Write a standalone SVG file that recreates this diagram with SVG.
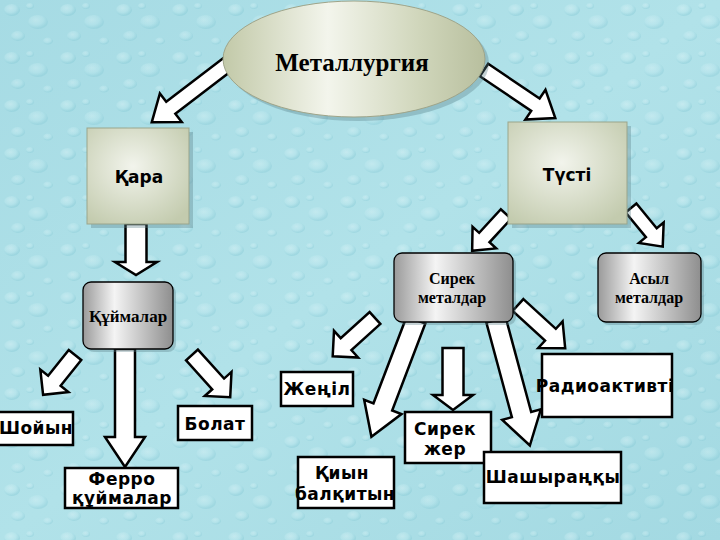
<svg xmlns="http://www.w3.org/2000/svg" width="720" height="540" viewBox="0 0 720 540">
<defs>
<style>
.arrow polygon{fill:#ffffff;stroke:#000000;stroke-width:2.5;stroke-linejoin:miter}
.lbl{fill:#ffffff;stroke:#000000;stroke-width:2.5}
.sans{font-family:"DejaVu Sans","Liberation Sans",sans-serif;font-weight:bold;fill:#000000;text-anchor:middle}
.serif{font-family:"Liberation Serif","DejaVu Serif",serif;fill:#000000;text-anchor:middle}
.sq{fill:url(#gSq);stroke:#9aa58c;stroke-width:1}
.gr{fill:url(#gGr);stroke:#000000;stroke-width:1.3}
.sh{fill:#5a7d86;opacity:0.35}
</style>
<linearGradient id="gBg" x1="0" y1="0" x2="1" y2="1">
<stop offset="0" stop-color="#a6dbe4"/>
<stop offset="0.5" stop-color="#b1e2e9"/>
<stop offset="1" stop-color="#a3d9e2"/>
</linearGradient>
<radialGradient id="gDrop" cx="0.4" cy="0.35" r="0.6">
<stop offset="0" stop-color="#e6f8fa"/>
<stop offset="0.6" stop-color="#bfe9ef"/>
<stop offset="1" stop-color="#86c9d5"/>
</radialGradient>
<pattern id="pDrops" x="0" y="0" width="56" height="48" patternUnits="userSpaceOnUse">
<ellipse cx="12" cy="10" rx="8" ry="6" fill="url(#gDrop)" opacity="0.4"/>
<ellipse cx="38" cy="22" rx="10" ry="7" fill="url(#gDrop)" opacity="0.35"/>
<ellipse cx="18" cy="36" rx="7" ry="5" fill="url(#gDrop)" opacity="0.35"/>
<ellipse cx="48" cy="41" rx="5" ry="3.5" fill="url(#gDrop)" opacity="0.35"/>
<ellipse cx="30" cy="6" rx="4" ry="3" fill="url(#gDrop)" opacity="0.35"/>
</pattern>
<linearGradient id="gEl" x1="0" y1="0" x2="1" y2="0">
<stop offset="0" stop-color="#c2c9a8"/>
<stop offset="0.4" stop-color="#f3f5ec"/>
<stop offset="0.75" stop-color="#d0d6bb"/>
<stop offset="1" stop-color="#b8bf9e"/>
</linearGradient>
<radialGradient id="gSq" cx="0.45" cy="0.4" r="0.7">
<stop offset="0" stop-color="#f2f4ec"/>
<stop offset="1" stop-color="#c3cbae"/>
</radialGradient>
<linearGradient id="gGr" x1="0" y1="0" x2="1" y2="0">
<stop offset="0" stop-color="#9a9a9a"/>
<stop offset="0.35" stop-color="#f4f4f4"/>
<stop offset="0.7" stop-color="#bdbdbd"/>
<stop offset="1" stop-color="#8e8e8e"/>
</linearGradient>
</defs>

<rect x="0" y="0" width="720" height="540" fill="url(#gBg)"/>
<rect x="0" y="0" width="720" height="540" fill="url(#pDrops)"/>

<g id="connectors" class="arrow">
<g transform="translate(228,64) rotate(142.6)"><polygon points="0,-7.5 72,-7.5 72,-18 96,0 72,18 72,7.5 0,7.5"/></g>
<g transform="translate(484,70) rotate(34)"><polygon points="0,-7.5 62,-7.5 62,-18 86,0 62,18 62,7.5 0,7.5"/></g>
<g transform="translate(136,224) rotate(90)"><polygon points="0,-10.5 38,-10.5 38,-21 51,0 38,21 38,10.5 0,10.5"/></g>
<g transform="translate(506,214) rotate(132.6)"><polygon points="0,-7 32,-7 32,-16 50,0 32,16 32,7 0,7"/></g>
<g transform="translate(631,208) rotate(50.6)"><polygon points="0,-7 32,-7 32,-16 50,0 32,16 32,7 0,7"/></g>
<g transform="translate(75,355) rotate(128.7)"><polygon points="0,-8 33,-8 33,-18 51,0 33,18 33,8 0,8"/></g>
<g transform="translate(125,349) rotate(90)"><polygon points="0,-10 88,-10 88,-20 118,0 88,20 88,10 0,10"/></g>
<g transform="translate(192,355) rotate(47.9)"><polygon points="0,-8 39,-8 39,-18 57,0 39,18 39,8 0,8"/></g>
<g transform="translate(375,318) rotate(137.9)"><polygon points="0,-8 39,-8 39,-18 57,0 39,18 39,8 0,8"/></g>
<g transform="translate(416,320) rotate(110.9)"><polygon points="0,-10 93,-10 93,-20 125,0 93,20 93,10 0,10"/></g>
<g transform="translate(453,348) rotate(90)"><polygon points="0,-10.5 47,-10.5 47,-20 62,0 47,20 47,10.5 0,10.5"/></g>
<g transform="translate(496,320) rotate(74.9)"><polygon points="0,-10 98,-10 98,-20 130,0 98,20 98,10 0,10"/></g>
<g transform="translate(518,305) rotate(42.5)"><polygon points="0,-8 44,-8 44,-18 64,0 44,18 44,8 0,8"/></g>
</g>

<g id="metallurgy">
<ellipse cx="358" cy="63" rx="131" ry="58" class="sh"/>
<ellipse cx="354" cy="59" rx="131" ry="58" fill="url(#gEl)" stroke="#9ea489" stroke-width="1"/>
<text x="352" y="71" class="serif" font-size="25" font-weight="bold">Металлургия</text>
</g>

<g id="kara">
<rect x="91" y="132" width="102" height="96" class="sh"/>
<rect x="87" y="128" width="102" height="96" class="sq"/>
<text x="139" y="183" class="sans" font-size="17">Қара</text>
</g>

<g id="tusti">
<rect x="512" y="126" width="119" height="102" class="sh"/>
<rect x="508" y="122" width="119" height="102" class="sq"/>
<text x="567" y="181" class="sans" font-size="17">Түсті</text>
</g>

<g id="kuimalar">
<rect x="86" y="285" width="90" height="67" rx="8" class="sh"/>
<rect x="83" y="282" width="90" height="67" rx="8" class="gr"/>
<text x="128" y="322" class="serif" font-size="17" font-weight="bold">Құймалар</text>
</g>

<g id="sirek">
<rect x="397" y="256" width="119" height="69" rx="8" class="sh"/>
<rect x="394" y="253" width="119" height="69" rx="8" class="gr"/>
<text x="452" y="284" class="serif" font-size="16" font-weight="bold">Сирек</text>
<text x="452" y="303" class="serif" font-size="16" font-weight="bold">металдар</text>
</g>

<g id="asyl">
<rect x="601" y="256" width="103" height="69" rx="8" class="sh"/>
<rect x="598" y="253" width="103" height="69" rx="8" class="gr"/>
<text x="649" y="284" class="serif" font-size="16" font-weight="bold">Асыл</text>
<text x="649" y="303" class="serif" font-size="16" font-weight="bold">металдар</text>
</g>

<g id="shoiyn">
<rect x="-2" y="412" width="75" height="33" class="lbl"/>
<text x="36" y="434" class="sans" font-size="17" letter-spacing="0.5">Шойын</text>
</g>

<g id="ferro">
<rect x="65" y="468" width="113" height="40" class="lbl"/>
<text x="122" y="485" class="sans" font-size="17" letter-spacing="0.5">Ферро</text>
<text x="122" y="504" class="sans" font-size="17" letter-spacing="0.5">құймалар</text>
</g>

<g id="bolat">
<rect x="178" y="406" width="74" height="34" class="lbl"/>
<text x="215" y="430" class="sans" font-size="17" letter-spacing="0.5">Болат</text>
</g>

<g id="zhenil">
<rect x="281" y="372" width="72" height="34" class="lbl"/>
<text x="317" y="395" class="sans" font-size="17" letter-spacing="0.5">Жеңіл</text>
</g>

<g id="kiyn">
<rect x="298" y="457" width="96" height="51" class="lbl"/>
<text x="342" y="479" class="sans" font-size="17" letter-spacing="0.5">Қиын</text>
<text x="345" y="500" class="sans" font-size="17" letter-spacing="0.5">балқитын</text>
</g>

<g id="sirek-zher">
<rect x="405" y="412" width="86" height="51" class="lbl"/>
<text x="445" y="435" class="sans" font-size="17" letter-spacing="0.5">Сирек</text>
<text x="445" y="455" class="sans" font-size="17" letter-spacing="0.5">жер</text>
</g>

<g id="shashyrangky">
<rect x="484" y="452" width="137" height="51" class="lbl"/>
<text x="553" y="483" class="sans" font-size="17" letter-spacing="0.5">Шашыраңқы</text>
</g>

<g id="radioaktivti">
<rect x="542" y="354" width="130" height="63" class="lbl"/>
<text x="605" y="392" class="sans" font-size="17" letter-spacing="0.5">Радиоактивті</text>
</g>
</svg>
